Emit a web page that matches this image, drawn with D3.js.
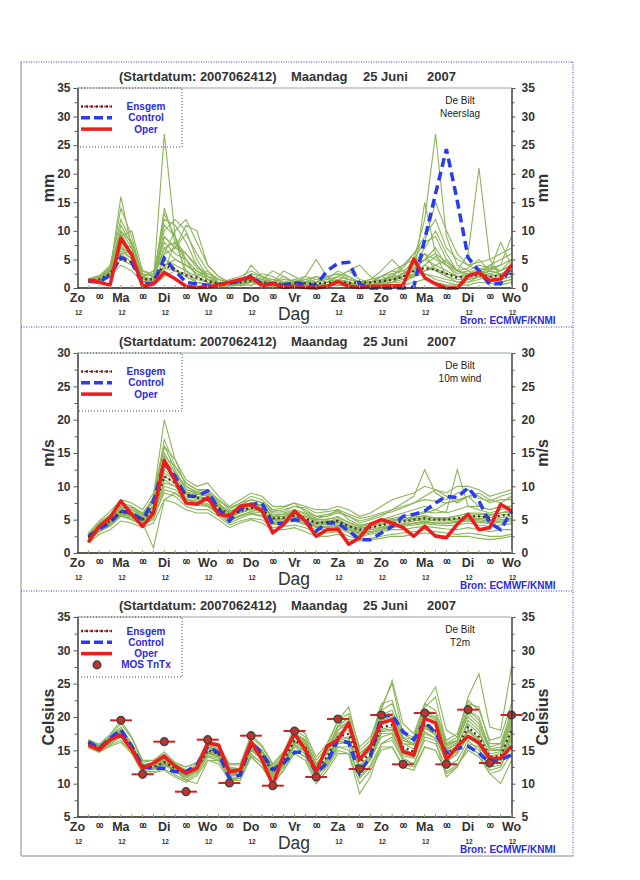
<!DOCTYPE html>
<html>
<head>
<meta charset="utf-8">
<script src="https://cdn.jsdelivr.net/npm/d3@7"></script>
<style>
body { margin: 0; background: #fff; }
svg { font-family: "Liberation Sans", Arial, sans-serif; }
</style>
</head>
<body>
<svg width="640" height="880"></svg>
<script>
// lead times (hours after start), 6-hourly
var leadHours = [6,12,18,24,30,36,42,48,54,60, 66,72,78,84,90,96,102,108,114,120, 126,132,138,144,150,156,162,168,174,180, 186,192,198,204,210,216,222,228,234,240];
var tickHours = [0,12,24,36,48,60,72,84,96,108,120,132,144,156,168,180,192,204,216,228,240];
var tickLabels = ["Zo","00","Ma","00","Di","00","Wo","00","Do","00","Vr","00","Za","00","Zo","00","Ma","00","Di","00","Wo"];
var subHours = [0,24,48,72,96,144,168,192,216,240];

var precipTicks = [0,5,10,15,20,25,30,35];
var windTicks = [0,5,10,15,20,25,30];
var tempTicks = [5,10,15,20,25,30,35];

// Neerslag (mm)
var precipOper = [1.4,1,0.5,8.7,5.8,0.3,0.7,2.7,1.6,0.3, 0.1,0.2,0.5,1,1.5,1.9,0.4,0.8,0.1,0.3, 0.1,0,0.3,1.1,0.3,0.1,0.3,0.3,0.4,0.5, 5.1,1.8,0.7,0,0,2.1,2.7,1.3,1.6,4];
var precipControl = [1.2,1,2.2,5.4,4.5,0.7,0.8,5.2,3,1, 0.7,0.5,0.6,0.8,1.3,2.1,0.6,0.8,0.5,1, 0.6,0.5,3,4.3,4.5,0.7,0,0,0,0, 0.2,8.5,16.5,24.3,15.3,5.3,3,0.6,0.8,3.8];
var precipMean = [1.3,1.5,2.5,5,4.5,1.5,1.5,4,3.2,2.2, 1.8,1.2,0.8,0.8,1,1.3,1,0.8,0.7,0.8, 0.8,0.8,0.9,1,0.9,1,1,1.2,1.4,2, 3,3.5,3.2,2.5,1.8,2,2.3,2,2.2,2.5];
var precipMembers = [
    [1.2,1.5,3,16,7,1,1,27,9,2, 1,0.5,0.3,0.5,1,1.5,0.5,0.3,0.5,1, 0.5,0.2,0.5,1,0.8,0.3,0.2,0.5,1,2, 3,2.5,1.5,1,0.5,1,2,1.5,1,1.5],
    [1,1.2,2,7,5,0.5,1,14,8,3, 1,0.5,0.5,0.8,1.2,2,1.5,1,0.5,0.5, 1,0.5,0.5,1.5,1,0.5,1,2,3,4, 5,12,27,9,4,3,2,1,1.5,2],
    [1.5,2,4,12,8,2,1.5,10,12,10, 5,2,1,0.5,1,2.5,2,1,0.8,0.5, 0.3,0.5,1,2,1.5,1,1,1.5,2,4, 6,8,9,5,3,6,21,5,2,3],
    [1.3,1.8,3.5,9,10,3,2,6,7,11, 10,4,2,1,0.5,0.5,1,1.5,1,0.5, 1,1.5,2,1,0.5,0.5,1,2,1.5,2, 3,5,4,3,2,2.5,3,4,5,6],
    [1,1.2,2.5,5,4,1,2,3,8,5, 2,3,1,0.5,1,1.5,1,0.5,0.3,0.5, 1,2,1.5,3,2,1,0.5,1,2.5,1.5, 2,4,5.5,4,2,1.5,2,4,3,5],
    [1.4,2,3,6,6.5,2,1,4,5,4, 3,1.5,0.5,0.5,1,4,2,1,2,1, 0.5,0.5,0.5,1,0.5,0.5,0.3,0.5,1,1, 2,15,6,2,1,1,1.5,2,1,1.5],
    [1.1,1.3,2,4,3,1,0.5,2,3,2, 1,0.5,0.3,0.3,0.5,1,0.5,0.3,0.2,0.3, 0.3,0.2,0.3,0.5,0.3,0.2,0.2,0.3,0.5,0.5, 1,1.5,1,0.5,0.5,0.5,1,0.8,0.5,1],
    [1.6,2.2,3.5,10,7,3,2.5,8,6,5, 3,2,1.5,1,1.5,2,1.5,1,3,2, 1,0.5,1,2,3,4,2,1,1.5,2.5, 5,8,15,10,6,4,3,2.5,3,4],
    [1.2,1.6,2.8,7.5,5.5,1.5,1.2,5,4,3, 2,1,0.8,1.5,2,3,2,1.5,1,0.8, 0.5,1,2,2.5,1.5,1,1.5,3,5,3, 2,3,4,5,3,2,3,2,2.5,3],
    [1.3,1.5,2.5,6,4.5,1.2,1,3.5,3,2.5, 1.5,1,0.5,0.8,1,1.5,1.2,0.8,0.5,0.8, 2,5,2,1,0.8,0.5,0.5,0.8,1,1.5, 2,2.5,2,1.5,1,1.5,2,3,8,4],
    [1,1.4,3.2,14,9,2,1.5,12,11,8, 4,1.5,1,0.5,0.5,1,0.5,0.5,0.5,1, 1.5,1,0.5,0.5,0.5,0.3,0.5,0.8,1.5,2, 4,6,3,2,1.5,1.5,2,2.5,2,2.5],
    [1.5,1.8,3,8,6,1.5,1.5,9,7,9.5, 6,3,1.5,1,0.5,1,2,1,0.5,1.5, 1,0.5,0.5,1.5,2,1,0.5,0.5,1,2.5, 3.5,5,7,4,2.5,3,4,3.5,3,4],
    [1.2,1.7,3,11,7.5,2.5,2,7,8,6, 3.5,2.5,1.5,1,1,2,1,0.5,0.5,1, 1.5,2,1.5,2,3,1.5,1,2,3,2.5, 3,6,5,4,3,3.5,5,3,4,5],
    [1.4,1.9,3.5,9.5,6,2,2.5,11,9,4, 2.5,1.5,1,0.8,1.2,1.5,1.5,1,1.5,1.2, 1,1,1.5,1,0.5,0.5,1,1.5,2,1.5, 2.5,4,3,2.5,2,2,2.5,2,1.5,2],
    [1.3,1.6,2.8,8,7,2,3,6,10,12, 8,4,2,1,0.8,1.5,2.5,2,1,0.5, 0.5,1,2,2.5,2,1,1.5,2,2.5,3, 4,7,10,6,3,2.5,3.5,3,2.5,3],
    [1.1,1.3,2.2,6.5,5,1.5,1.5,7,5,4, 3,2,1,0.5,0.5,1,1.5,3,2,1, 0.5,0.5,1,1.5,1,0.5,0.5,1,2,3.5, 6,9,12,7,5,4,4.5,5,6,7],
    [1.4,1.7,3,10,8,2.5,2,13,9,5, 2,1,0.5,0.5,1,2,1,0.5,0.5,0.5, 0.5,0.5,0.5,1,1,0.5,0.5,1,1.5,2, 2,3,3.5,2.5,2,2,3,3.5,4,9],
    [1.2,1.5,2.5,7,6,1.8,1.2,9,7,6, 4,2,1,0.8,0.8,1.2,1,0.5,1,1.5, 2,1.5,1,1,1.5,1,0.8,1.2,1.8,2.5, 3.5,5,6,4.5,3,2.5,2.5,3,2.5,3]
];

// 10m wind (m/s)
var windOper = [1.6,4,5.3,7.8,5.8,4,6,13.9,10.8,7.5, 7.3,8.3,5.8,5.5,7,7.3,6.3,3,4.3,6.3, 4.8,2.5,3.5,3.6,1.3,2.3,4.3,5,4.5,3.8, 2.5,4,2.5,2.3,4.3,5.8,3.5,3.8,7.3,6.3];
var windControl = [2.5,3.6,4.5,6.3,6,5,7.8,13.5,11.5,8.5, 8.5,9.3,6.6,4.8,6.6,7.3,7.5,4.3,4.5,5, 4.8,3.3,4.5,4.5,3.3,2,2,3,4,5.5, 5.8,6.3,7.5,8.5,8.3,9.8,7.8,4.5,3.5,6.3];
var windMean = [2.3,3.8,4.8,6.2,5.8,5,6.5,11.5,10.5,8.8, 8.3,8,6.8,5.7,6.3,6.8,6.5,5.2,5.3,5.6, 5.2,4.5,4.6,4.8,4,3.5,3.8,4.2,4.5,4.7, 5,5.2,5,5,5.2,5.5,5.5,5.3,5.6,5.8];
var windMembers = [
    [2.5,4,5,6.8,6.5,5.5,8.5,20,14,10, 9,9,7.5,6,7,7.5,7,5.5,5.8,6, 5.5,5,5,5.5,4.5,4,4.5,5,5.5,6, 6.5,7,6.5,6,6.5,7,7,6.5,7,7],
    [2,3.5,4.5,5.8,5.5,4.5,0.8,8,9,8, 7.5,7,6,5,5.5,6,5.5,4.5,4.8,5, 4.8,4,4,4.2,3.5,3,3.2,3.5,4,4.2, 4.5,4.8,4.5,4.5,4.8,5,5,4.8,5,5.2],
    [2.6,4.2,5.5,7.5,7,6,8,17,13,10.5, 9.5,9.5,8,6.5,7.5,8.5,8,6.5,6.2,7, 6.5,5.5,5.5,6,5.5,4.5,5,5.5,6.5,7.5, 8.5,12.5,9,8,9,9.5,8.5,7.5,8,8],
    [2.1,3.6,4.6,5.9,5.6,4.8,6.2,12,11,9, 8.5,8.2,6.9,5.2,6.1,6.6,6.2,4.8,5,5.4, 4.8,4.2,4.3,4.5,3.6,3.2,3.5,3.9,4.2,4.4, 4.8,5,4.8,4.8,5,5.2,5.2,5,5.3,5.5],
    [2.8,4.5,5.8,7,6.5,5.8,8,16,12.5,9.5, 9,8.8,7.2,6.2,7,7.5,7.2,6,6,6.5, 6,5.2,5.5,6.5,5,4.2,4.5,5,5.2,5.5, 5.8,6.2,6,6.2,12.5,7,6.5,6,6.5,7],
    [2,3.2,4.2,5.5,5,4.2,5,9.5,9,7.5, 7.2,7,5.8,4.5,5.2,5.8,5.5,4.2,4.5,4.8, 4.2,3.5,3.5,3.8,3,2.5,2.8,3.2,3.5,3.5, 3.8,4,3.8,3.6,3.5,3.8,3.5,3.2,3.5,3.5],
    [2.4,4,5,6.5,6,5.2,7,13,11.5,9.2, 8.8,8.5,7,6,6.6,7.2,6.8,5.5,5.5,6, 5.5,4.8,4.8,5,4.2,3.8,4,4.5,4.8,5, 5.2,5.5,5.2,5.2,5.5,6,6,5.8,6,6.5],
    [2.2,3.8,4.6,6,5.5,4.8,6,10.5,10,8.5, 8,7.8,6.5,5.5,6,6.5,6.2,5,5.1,5.4, 5,4.4,4.5,4.6,3.8,3.2,3.5,3.8,4,4.2, 4.5,4.7,4.5,4.5,4.7,5,4.8,4.6,4.8,5],
    [2.7,4.3,5.3,6.8,6.8,5.8,8.2,15,12,10, 9.2,9,7.8,6.8,7.5,8,7.5,6.2,6.5,7, 6.8,6,6.2,6.5,5.8,5.2,5.5,6,6.5,7, 7.5,8,7.8,7.5,7.8,8.5,8.2,7.8,8.5,9],
    [1.8,3.2,4,5.5,5.2,4.5,5.5,9,8.5,7, 6.5,6.5,5.5,4.2,4.8,5.2,5,3.8,4,4.2, 3.8,3,3,3.2,2.5,2,2.2,2.5,2.8,3, 3.2,3.5,3.2,3,2.8,3,2.8,2.5,2.5,2.8],
    [2.3,3.9,4.9,6.3,5.9,5.1,6.8,12.5,11,9, 8.5,8.2,7,5.8,6.5,7,6.8,5.4,5.5,5.8, 5.4,4.6,4.8,5,4.2,3.6,4,4.4,4.8,5, 5.5,6,6.5,7.5,8,8.5,7,6.5,7,6.5],
    [2.5,4.1,5.1,6.5,6.2,5.4,7.2,14,12,9.6, 8.9,8.6,7.3,6.3,6.8,7.4,7,5.7,5.8,6.3, 5.8,5,5.1,5.3,4.6,4,4.2,4.7,5,5.2, 5.4,5.6,5.3,5.3,5.6,5.9,5.8,5.6,6,6.2],
    [2,3.5,4.4,5.7,5.4,4.6,5.8,10,9.5,8, 7.8,7.4,6.3,5,5.7,6.2,6,4.6,4.8,5.2, 4.6,4,4,4.2,3.4,3,3.2,3.6,4,4.2, 4.4,4.6,4.4,4.4,4.6,4.8,4.6,4.4,4.6,4.8],
    [2.4,3.7,4.7,6.2,5.8,5,6.5,11.5,10.5,8.8, 8.2,8,6.8,5.6,6.2,6.8,6.4,5.2,5.2,5.6, 5,4.5,4.6,4.8,4,3.4,3.8,4.2,4.5,4.8, 5,5.3,5,5,5.2,5.6,5.5,5.3,5.7,5.9],
    [3,4.8,6.2,8,7.5,6.5,9,16,14,11, 10,10.5,8.5,7,8,9,8.5,7,7,7.5, 7,6.5,6.5,7,6.5,5.5,6,7,8,8.5, 9,10,9.5,9,10,10,9.5,8.5,9,9.5],
    [1.5,2.8,3.5,4.8,4.5,3.8,4.5,8,7.5,6.5, 6,6,5,3.8,4.5,5,4.5,3.5,3.5,3.8, 3.2,2.5,2.5,2.8,2,1.8,2,2.2,2.5,2.5, 2.8,3,2.8,2.5,2.5,2.5,2.2,2,2.2,2.5],
    [2.6,4.4,5.6,7.2,6.8,6,7.5,14.5,13,10.5, 9.5,9.2,8,6.8,7.2,8,7.6,6.5,6.8,7.5, 6.2,5.5,5.8,6.2,5.5,4.8,5.2,5.8,6.2,6.8, 7.5,8.5,9.5,8.5,7.5,8.5,9,8,7.5,8.5],
    [2.2,3.4,4.3,5.6,5,4.2,5.2,11,10,8.2, 7.6,7.2,6,4.8,5.5,6,5.6,4.4,4.6,5, 4.4,3.8,3.8,4,3.2,2.8,3,3.4,3.8,4, 4.2,4.4,4.2,4.1,4.2,4.5,4.2,4,4.2,4.4]
];

// T2m (Celsius)
var tempOper = [15.8,15.1,16.6,17.3,15.1,12.3,13.1,14.1,12.6,11.6, 12.3,16.1,15.8,11.8,12.1,16.3,13.6,9.8,14.3,17.5, 15.1,11.8,15.6,16.6,19.1,13.6,15.6,19.1,19.6,14.8, 14.3,19.8,19.1,13.6,15.6,17.1,16.1,13.8,13.8,15.6];
var tempControl = [16.3,15.3,16.8,18.1,15.6,12.6,12.3,12.3,11.8,11.8, 12.8,15.6,14.6,10.8,11.3,16.1,14.6,12.1,13.1,14.7, 14.8,11.6,13.1,16.6,16.1,11.6,14.1,20.1,20.3,17.8, 16.6,19.3,17.6,14.6,15.3,15.6,14.6,13.1,13.6,14.3];
var tempMean = [16,15.3,16.5,17.5,15.5,12.5,12.5,13.2,12.3,11.5, 12.3,15,14.5,11.8,11.8,15.7,14.3,11.8,13.5,16.5, 15.5,12,14,17,17.5,13.2,14.5,18.5,18.8,15.5, 14.8,19,18,14.5,15.5,18.5,17,14,14.2,18];
var tempMembers = [
    [16.2,15.5,17,18.5,16,12.8,13,14,12.8,12, 12.5,15.8,15,12.5,12.2,16.5,15,12.5,14,17.5, 16.5,13,15,18.5,19,14.5,15.5,20,20.5,16.5, 16,20.5,19.5,15.5,16.5,20,18.5,15,15,19.5],
    [15.8,15,16,17,15,12,12.2,12.8,11.8,11, 11.8,14.5,14,11.2,11.3,15,13.8,11,12.8,15.5, 14.5,11,13,16,16.5,12,13.5,17,17.5,14.2, 13.8,17.8,16.8,13.2,14.5,17.2,15.8,13,13.2,16.5],
    [16.5,15.8,17.2,19,16.8,13.2,13.5,14.5,13,12.5, 13,16,15.5,12.8,12.8,17,15.5,12.8,14.5,18, 17,13.5,15.5,19.5,21.5,15,16.5,22,22.5,17, 16.5,21,20.5,16,17,21,19.5,15.5,16,21],
    [15.5,14.8,15.8,16.5,14.8,11.8,11.8,12.2,11.3,10.5, 11.5,14,13.5,10.8,10.8,14.5,13,10.3,12.5,15, 14,10.5,12.5,15.5,15.5,11,12.8,16,16.5,13.5, 13,16.5,16,12.5,13.5,16.5,15,12.5,12.8,15.5],
    [16,15.2,16.8,18,15.8,12.5,12.8,13.8,12.5,11.8, 12.8,15.5,14.8,12,12,16,14.8,12.2,13.8,17, 16,12.5,14.5,17.5,18.5,13.8,15,19.5,20,16, 15.2,19.8,19,15,16,19,17.5,14.5,14.8,18.5],
    [16.3,15.5,16.5,17.2,15.2,12.2,12.5,13,12,11.2, 12,14.8,14.2,11.5,11.5,15.2,14,11.5,13.2,16.2, 15.2,11.8,13.8,16.8,17,12.5,14,18,18.2,15, 14.5,18.5,17.5,14,15,18,16.5,13.5,13.8,17.5],
    [15.7,15,16.2,17.2,15.2,12.3,12.5,13.5,12,10.5, 10,13.5,13.5,11,11,14,12.5,10,12,15, 14,11.5,12.5,15,14.5,8.5,11,16,17,13.8, 13,17,16.5,11,12.5,16,15.5,12,12.5,16],
    [16.1,15.4,16.6,17.8,15.6,12.6,12.8,13.6,12.6,11.8, 12.5,15.2,14.8,12,12,16,14.5,12,13.8,17, 16,12.5,14.5,18,19.5,14.5,16,21,25.5,19, 17.5,22,24.5,18,17,23,26.5,18.5,18,27.5],
    [15.9,15.2,16.4,17.4,15.4,12.4,12.3,13,12.2,11.3, 12.2,14.8,14.4,11.7,11.6,15.5,14.2,11.6,13.3,16.3, 15.3,11.8,13.8,16.5,16.8,12.8,14.2,18.2,18.5,15.2, 14.5,18.7,17.7,14.2,15.2,18.2,16.8,13.8,14,17.8],
    [16,15.3,16.5,17.6,15.5,12.4,12.4,13.1,12.2,11.4, 12.2,14.9,14.4,11.8,11.8,15.4,14,11.5,13,15.8, 14.8,11.3,13,15.5,15,10.8,12.5,15.5,15.5,12.8, 12.5,15.5,15,11.8,12.8,15,14,11.5,10,13.5],
    [16.2,15.4,16.8,18,15.8,12.7,12.7,13.4,12.5,11.7, 12.4,15.3,14.7,12,12,15.9,14.6,12,13.8,17.2, 16.2,12.5,14.8,18.5,20,14,15.5,21.5,25,17.5, 16.5,21.5,23,16,16.5,21,20,15,15.2,20.5],
    [15.6,14.9,16.1,17,15,12.1,12.1,12.8,12,11.1, 11.9,14.6,14.1,11.4,11.4,15,13.6,11.2,12.9,15.9, 14.9,11.5,13.4,16.3,16.5,12.4,13.8,17.8,18,14.8, 14.2,18.3,17.3,13.8,14.8,17.8,16.3,13.5,13.7,17],
    [16.4,15.6,16.9,18.2,16,12.9,13.1,14.2,12.9,12.1, 12.7,15.9,15.2,12.3,12.3,16.4,14.9,12.4,14.2,17.6, 16.6,12.8,14.9,18.8,19.8,14.6,15.8,20.3,21,16.8, 16,20.8,20,15.8,16.5,22,21.5,16,16,20],
    [15.7,15.1,16.3,17.3,15.3,12.3,12.4,13.3,11.9,10.8, 11.8,14.2,13.8,10.5,10.8,14.2,13.2,10.8,12.5,16.5, 15.8,12,13.5,17.5,18,13.5,15,19,19.5,16, 15.8,20,19,14.8,15.5,19.5,18,14.2,14.5,19],
    [16.6,15.9,17.4,19.5,17,13.5,13.5,14.8,13.2,12.5, 13.2,16.5,15.8,13,13,17.3,15.8,13,14.8,18.5, 17.5,14,16,19.5,20.5,15.5,17,21,22,17.5, 17,22,21,16.5,17.5,22.5,21,16.5,17,22],
    [15.4,14.7,15.6,16.2,14.5,11.5,11.6,12,11,10.2, 11.2,13.5,13,10.5,10.5,14,12.5,10,12,14.5, 13.5,10,12,14.5,14.5,10,12,15,15.5,12.5, 12,15.5,15,11.5,12.5,15.5,14.5,11.5,12,14.5],
    [16.1,15.3,16.7,17.9,15.9,12.8,12.9,13.9,12.6,11.9, 12.6,15.6,15,12.2,12.2,16.2,14.8,12.3,14,17.4, 16.4,12.8,14.8,18,19,14,15.5,19.5,20.5,16.5, 15.8,20.5,19.8,15.2,16.2,20.5,19,15.2,15.5,19.5],
    [15.9,15.1,16.3,17.2,15.3,12.2,12.3,12.9,12,11.2, 11.9,14.6,14.1,11.3,11.4,15.2,13.8,11.3,13,15.8, 14.8,11.5,13.4,16,16.2,12.2,13.7,17.5,17.6,14.5, 14,17.5,16.8,13.5,14.5,17,16,13.2,13.5,16.8]
];

// MOS Tn/Tx
var mosHours = [24,36,48,60,72,84,96,108,120,132,144,156,168,180,192,204,216,228,240];
var mosValues = [19.5,11.4,16.3,8.8,16.6,10.1,17.2,9.7,17.9,11,19.7,12.2,20.3,12.9,20.6,12.9,21.1,13.1,20.3];

var panels = [
    {frame: 62, label: "Neerslag", unit: "mm", ticks: precipTicks, members: precipMembers, mean: precipMean, control: precipControl, oper: precipOper, legendH: 59},
    {frame: 327, label: "10m wind", unit: "m/s", ticks: windTicks, members: windMembers, mean: windMean, control: windControl, oper: windOper, legendH: 58},
    {frame: 591, label: "T2m", unit: "Celsius", ticks: tempTicks, members: tempMembers, mean: tempMean, control: tempControl, oper: tempOper, legendH: 60, mos: true}
];

var svg = d3.select("svg");
var x = d3.scaleLinear().domain([0, 240]).range([77.5, 511.5]);
var green = "#8cb55a", blue = "#2a3cf0", red = "#ee1c1c", dark = "#333";

function label(g, tx, ty, str, size, weight, fill, anchor) {
    return g.append("text")
        .attr("x", tx).attr("y", ty)
        .attr("font-size", size)
        .attr("font-weight", weight)
        .attr("fill", fill)
        .attr("text-anchor", anchor || "start")
        .text(str);
}

// outer frame
svg.append("line").attr("x1", 21).attr("x2", 21).attr("y1", 62).attr("y2", 856).attr("stroke", "#aab4b4").attr("stroke-width", 1.5);
svg.append("line").attr("x1", 21).attr("x2", 573).attr("y1", 856).attr("y2", 856).attr("stroke", "#aab4b4").attr("stroke-width", 1.5);
svg.append("line").attr("x1", 573).attr("x2", 573).attr("y1", 62).attr("y2", 856).attr("stroke", "#3344cc").attr("stroke-dasharray", "1,1.5");

panels.forEach(function (p) {
    var top = p.frame + 26,
        bottom = top + 200,
        g = svg.append("g");

    var y = d3.scaleLinear()
        .domain([p.ticks[0], p.ticks[p.ticks.length - 1]])
        .range([bottom, top]);

    var line = d3.line()
        .x(function (d, i) { return x(leadHours[i]); })
        .y(function (d) { return y(d); });

    g.append("line")
        .attr("x1", 21).attr("x2", 573)
        .attr("y1", p.frame).attr("y2", p.frame)
        .attr("stroke", "#3344cc")
        .attr("stroke-dasharray", "1,1.5");

    // title
    label(g, 119, p.frame + 18.5, "(Startdatum: 2007062412)", 13, "bold", dark);
    label(g, 291, p.frame + 18.5, "Maandag", 13, "bold", dark);
    label(g, 363, p.frame + 18.5, "25 Juni", 13, "bold", dark);
    label(g, 427, p.frame + 18.5, "2007", 13, "bold", dark);

    // plot top border
    g.append("line")
        .attr("x1", x(0)).attr("x2", x(240))
        .attr("y1", top).attr("y2", top)
        .attr("stroke", "#9aa6a6").attr("stroke-width", 1.2);

    // ensemble members
    g.selectAll(".member")
        .data(p.members)
        .enter().append("path")
        .attr("class", "member")
        .attr("d", line)
        .attr("fill", "none")
        .attr("stroke", green)
        .attr("stroke-width", 1.1);

    g.append("path").attr("d", line(p.control))
        .attr("fill", "none").attr("stroke", blue)
        .attr("stroke-width", 3.5).attr("stroke-dasharray", "9,5");

    g.append("path").attr("d", line(p.mean))
        .attr("fill", "none").attr("stroke", "#4a3232")
        .attr("stroke-width", 2.3).attr("stroke-dasharray", "2,3");

    g.append("path").attr("d", line(p.oper))
        .attr("fill", "none").attr("stroke", red)
        .attr("stroke-width", 3.5).attr("stroke-linejoin", "round");

    if (p.mos) {
        var mos = g.selectAll(".mos")
            .data(mosValues)
            .enter().append("g")
            .attr("class", "mos");
        mos.append("line")
            .attr("x1", function (d, i) { return x(mosHours[i] - 6); })
            .attr("x2", function (d, i) { return x(mosHours[i] + 6); })
            .attr("y1", function (d) { return y(d); })
            .attr("y2", function (d) { return y(d); })
            .attr("stroke", red).attr("stroke-width", 2);
        mos.append("line")
            .attr("x1", function (d, i) { return x(mosHours[i] - 6); })
            .attr("x2", function (d, i) { return x(mosHours[i] + 6); })
            .attr("y1", function (d) { return y(d); })
            .attr("y2", function (d) { return y(d); })
            .attr("stroke", "#444").attr("stroke-width", 1).attr("stroke-dasharray", "1,2");
        mos.append("circle")
            .attr("cx", function (d, i) { return x(mosHours[i]); })
            .attr("cy", function (d) { return y(d); })
            .attr("r", 3.8)
            .attr("fill", "#c8302a").attr("stroke", "#444").attr("stroke-width", 1.5);
    }

    // y axes
    var minor = p.ticks.slice(1).map(function (t) { return t - 2.5; });

    var left = g.append("g")
        .attr("transform", "translate(" + x(0) + ",0)")
        .call(d3.axisLeft(y).tickValues(p.ticks).tickSize(4).tickSizeOuter(0).tickPadding(3));
    g.append("g")
        .attr("transform", "translate(" + x(0) + ",0)")
        .call(d3.axisLeft(y).tickValues(minor).tickSize(3).tickFormat(""))
        .select(".domain").remove();

    var right = g.append("g")
        .attr("transform", "translate(" + x(240) + ",0)")
        .call(d3.axisRight(y).tickValues(p.ticks).tickSize(4).tickSizeOuter(0).tickPadding(6));
    g.append("g")
        .attr("transform", "translate(" + x(240) + ",0)")
        .call(d3.axisRight(y).tickValues(minor).tickSize(3).tickFormat(""))
        .select(".domain").remove();

    [left, right].forEach(function (a) {
        a.selectAll("text")
            .attr("font-size", 12).attr("font-weight", "bold")
            .attr("fill", dark).attr("font-family", "Liberation Sans, Arial, sans-serif");
        a.select(".domain").attr("stroke", "#222").attr("stroke-width", 1.3);
    });
    g.selectAll(".tick line").attr("stroke", "#555");

    // x axis
    g.append("line")
        .attr("x1", x(0)).attr("x2", x(240))
        .attr("y1", bottom).attr("y2", bottom)
        .attr("stroke", "#222").attr("stroke-width", 1.3);

    g.selectAll(".xminor")
        .data(leadHours)
        .enter().append("line")
        .attr("x1", function (d) { return x(d); })
        .attr("x2", function (d) { return x(d); })
        .attr("y1", bottom - 3).attr("y2", bottom)
        .attr("stroke", green).attr("stroke-width", 1);

    tickLabels.forEach(function (t, i) {
        if (t === "00") {
            label(g, x(tickHours[i]), bottom + 10.5, t, 7.5, "bold", "#222", "middle")
                .attr("letter-spacing", -1);
        } else {
            label(g, x(tickHours[i]), bottom + 14, t, 12.5, "bold", dark, "middle");
        }
    });
    subHours.forEach(function (h) {
        label(g, x(h) + 1, bottom + 26.5, "12", 6.5, "bold", dark, "middle");
    });

    label(g, 294, bottom + 32, "Dag", 17.5, "normal", dark, "middle");
    label(g, 460, bottom + 35.5, "Bron: ECMWF/KNMI", 10, "bold", "#2b2bd8");

    // axis titles
    g.append("text")
        .attr("transform", "translate(54," + (top + 100) + ") rotate(-90)")
        .attr("text-anchor", "middle").attr("font-size", 16).attr("font-weight", "bold").attr("fill", dark)
        .text(p.unit);
    g.append("text")
        .attr("transform", "translate(548," + (top + 100) + ") rotate(-90)")
        .attr("text-anchor", "middle").attr("font-size", 16).attr("font-weight", "bold").attr("fill", dark)
        .text(p.unit);

    // station label
    label(g, 460, top + 15.5, "De Bilt", 10, "normal", "#222", "middle");
    label(g, 460, top + 29, p.label, 10, "normal", "#222", "middle");

    // legend
    g.append("rect")
        .attr("x", x(0) + 0.5).attr("y", top)
        .attr("width", 104).attr("height", p.legendH)
        .attr("fill", "none").attr("stroke", "#555").attr("stroke-dasharray", "1,2");

    var ly = top + (p.mos ? 14 : 18.5), step = 11.3;
    var legendItems = [
        {name: "Ensgem", stroke: "#4a3232", dash: "2,3", w: 2.3, under: red},
        {name: "Control", stroke: blue, dash: "9,4", w: 3.5},
        {name: "Oper", stroke: red, dash: null, w: 3.5}
    ];
    legendItems.forEach(function (it, i) {
        var yy = ly + i * step;
        if (it.under) {
            g.append("line").attr("x1", 81).attr("x2", 112).attr("y1", yy).attr("y2", yy)
                .attr("stroke", it.under).attr("stroke-width", 1.5).attr("stroke-dasharray", "2,3")
                .attr("stroke-dashoffset", 2);
        }
        g.append("line").attr("x1", 81).attr("x2", 112).attr("y1", yy).attr("y2", yy)
            .attr("stroke", it.stroke).attr("stroke-width", it.w)
            .attr("stroke-dasharray", it.dash);
        label(g, 146, yy + 3.5, it.name, 10, "bold", "#2b2bd8", "middle");
    });
    if (p.mos) {
        var my = ly + 3 * step;
        g.append("circle").attr("cx", 97).attr("cy", my).attr("r", 3.8)
            .attr("fill", "#c8302a").attr("stroke", "#444").attr("stroke-width", 1.5);
        label(g, 146, my + 3.5, "MOS TnTx", 10, "bold", "#2b2bd8", "middle");
    }
});
</script>
</body>
</html>
